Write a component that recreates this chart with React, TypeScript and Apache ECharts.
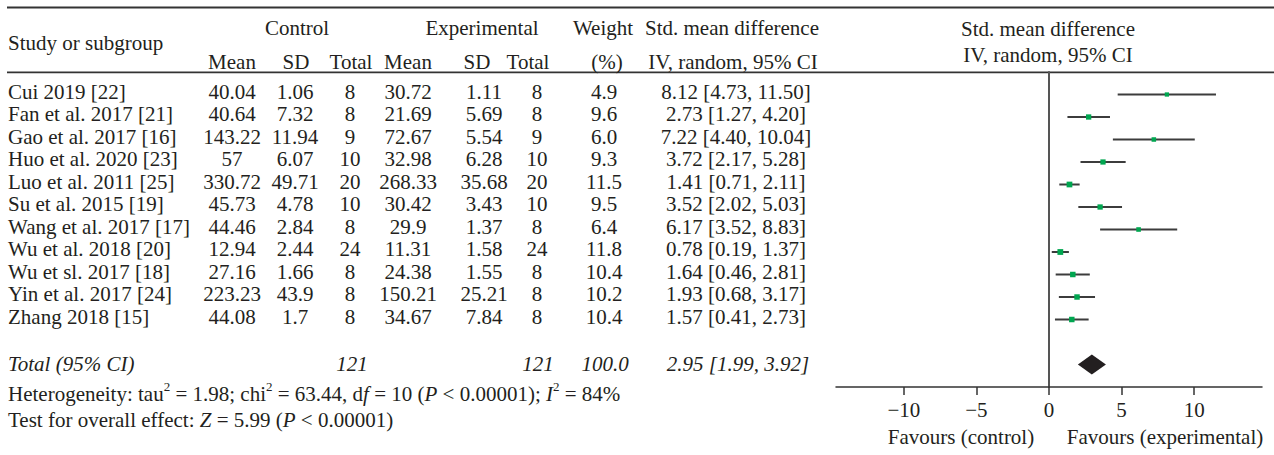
import React, { useEffect, useRef } from "react";
import * as echarts from "echarts";

const FONT = "'Liberation Serif', 'DejaVu Serif', serif";
const INK = "#231f20";
const FS = 21;

const studies = [
  "Cui 2019 [22]",
  "Fan et al. 2017 [21]",
  "Gao et al. 2017 [16]",
  "Huo et al. 2020 [23]",
  "Luo et al. 2011 [25]",
  "Su et al. 2015 [19]",
  "Wang et al. 2017 [17]",
  "Wu et al. 2018 [20]",
  "Wu et sl. 2017 [18]",
  "Yin et al. 2017 [24]",
  "Zhang 2018 [15]",
];
const controlMean = ["40.04", "40.64", "143.22", "57", "330.72", "45.73", "44.46", "12.94", "27.16", "223.23", "44.08"];
const controlSD = ["1.06", "7.32", "11.94", "6.07", "49.71", "4.78", "2.84", "2.44", "1.66", "43.9", "1.7"];
const controlTotal = [8, 8, 9, 10, 20, 10, 8, 24, 8, 8, 8];
const expMean = ["30.72", "21.69", "72.67", "32.98", "268.33", "30.42", "29.9", "11.31", "24.38", "150.21", "34.67"];
const expSD = ["1.11", "5.69", "5.54", "6.28", "35.68", "3.43", "1.37", "1.58", "1.55", "25.21", "7.84"];
const expTotal = [8, 8, 9, 10, 20, 10, 8, 24, 8, 8, 8];
const weights = [4.9, 9.6, 6.0, 9.3, 11.5, 9.5, 6.4, 11.8, 10.4, 10.2, 10.4];
const smd = [8.12, 2.73, 7.22, 3.72, 1.41, 3.52, 6.17, 0.78, 1.64, 1.93, 1.57];
const ciLow = [4.73, 1.27, 4.4, 2.17, 0.71, 2.02, 3.52, 0.19, 0.46, 0.68, 0.41];
const ciHigh = [11.5, 4.2, 10.04, 5.28, 2.11, 5.03, 8.83, 1.37, 2.81, 3.17, 2.73];
const pooledSmd = 2.95;
const pooledLow = 1.99;
const pooledHigh = 3.92;
const totalControl = 121;
const totalExp = 121;
const totalWeight = 100.0;
const xTickValues = [-10, -5, 0, 5, 10];
const TOTAL_ROW = 12;

// column x positions (layout)
const COL = {
  study: 8,
  cMean: 232,
  cSD: 295,
  cN: 350,
  eMean: 408,
  eSD: 484,
  eN: 537,
  weight: 604,
  ci: 736,
};

const fmtCI = (m: number, l: number, h: number) =>
  `${m.toFixed(2)} [${l.toFixed(2)}, ${h.toFixed(2)}]`;

function txt(text: string, x: number, y: number, align: string, italic = false, extra: any = {}) {
  return {
    type: "text",
    x,
    y,
    silent: true,
    style: {
      text,
      fill: INK,
      fontSize: FS,
      fontFamily: FONT,
      fontStyle: italic ? "italic" : "normal",
      align,
      textAlign: align,
      verticalAlign: "middle",
      textVerticalAlign: "middle",
      ...extra,
    },
  };
}

export default function App() {
  const ref = useRef<HTMLDivElement>(null);

  useEffect(() => {
    if (!ref.current) return;
    const chart = echarts.init(ref.current, undefined, { renderer: "svg" });

    const richStyles = {
      n: { fontSize: FS, fontFamily: FONT, fill: INK, lineHeight: 24, verticalAlign: "bottom" },
      i: { fontStyle: "italic", fontSize: FS, fontFamily: FONT, fill: INK, lineHeight: 24, verticalAlign: "bottom" },
      s: { fontSize: 13, fontFamily: FONT, fill: INK, lineHeight: 13, verticalAlign: "top" },
    };

    const option: any = {
      animation: false,
      backgroundColor: "#ffffff",
      textStyle: { fontFamily: FONT },
      grid: { left: 836, width: 426, top: 72, height: 315, containLabel: false },
      xAxis: {
        type: "value",
        min: -14.67,
        max: 14.67,
        splitLine: { show: false },
        axisLine: { show: true, onZero: false, lineStyle: { color: "#333", width: 1.5 } },
        axisTick: { show: true, length: 8, customValues: xTickValues, lineStyle: { color: "#333", width: 1.5 } },
        axisLabel: {
          show: true,
          customValues: xTickValues,
          margin: 12,
          fontSize: FS,
          fontFamily: FONT,
          color: INK,
          formatter: (v: number) => (v < 0 ? "\u2212" + Math.abs(v) : String(v)),
        },
      },
      yAxis: {
        type: "value",
        inverse: true,
        min: -1,
        max: 13,
        splitLine: { show: false },
        axisTick: { show: false },
        axisLabel: { show: false },
        axisLine: { show: true, onZero: true, lineStyle: { color: "#555", width: 2 } },
      },
      series: [
        {
          type: "custom",
          name: "studies",
          clip: false,
          encode: { x: 0, y: 1 },
          data: studies.map((_, i) => [smd[i], i, ciLow[i], ciHigh[i], weights[i]]),
          renderItem: (params: any, api: any) => {
            const y = api.value(1);
            const c = api.coord([api.value(0), y]);
            const l = api.coord([api.value(2), y]);
            const h = api.coord([api.value(3), y]);
            const s = 3.2 + api.value(4) * 0.22;
            return {
              type: "group",
              children: [
                {
                  type: "line",
                  shape: { x1: l[0], y1: l[1], x2: h[0], y2: h[1] },
                  style: { stroke: "#3c3c3c", lineWidth: 2 },
                },
                {
                  type: "rect",
                  shape: { x: c[0] - s / 2, y: c[1] - s / 2, width: s, height: s },
                  style: { fill: "#00a650" },
                },
              ],
            };
          },
        },
        {
          type: "custom",
          name: "pooled",
          clip: false,
          encode: { x: 0, y: 1 },
          data: [[pooledSmd, TOTAL_ROW, pooledLow, pooledHigh]],
          renderItem: (params: any, api: any) => {
            const y = api.value(1);
            const c = api.coord([api.value(0), y]);
            const l = api.coord([api.value(2), y]);
            const h = api.coord([api.value(3), y]);
            return {
              type: "polygon",
              shape: {
                points: [
                  [l[0], c[1]],
                  [c[0], c[1] - 10],
                  [h[0], c[1]],
                  [c[0], c[1] + 10],
                ],
              },
              style: { fill: INK },
            };
          },
        },
        {
          type: "custom",
          name: "table",
          clip: false,
          silent: true,
          encode: { x: 0, y: 1 },
          data: studies.map((_, i) => [0, i]),
          renderItem: (params: any, api: any) => {
            const i = params.dataIndex;
            const y = api.coord([0, api.value(1)])[1] - 3;
            return {
              type: "group",
              children: [
                txt(studies[i], COL.study, y, "left"),
                txt(controlMean[i], COL.cMean, y, "center"),
                txt(controlSD[i], COL.cSD, y, "center"),
                txt(String(controlTotal[i]), COL.cN, y, "center"),
                txt(expMean[i], COL.eMean, y, "center"),
                txt(expSD[i], COL.eSD, y, "center"),
                txt(String(expTotal[i]), COL.eN, y, "center"),
                txt(weights[i].toFixed(1), COL.weight, y, "center"),
                txt(fmtCI(smd[i], ciLow[i], ciHigh[i]), COL.ci, y, "center"),
              ],
            };
          },
        },
        {
          type: "custom",
          name: "totalRow",
          clip: false,
          silent: true,
          encode: { x: 0, y: 1 },
          data: [[0, TOTAL_ROW]],
          renderItem: (params: any, api: any) => {
            const y = api.coord([0, api.value(1)])[1] - 1;
            return {
              type: "group",
              children: [
                txt("Total (95% CI)", COL.study, y, "left", true),
                txt(String(totalControl), COL.cN + 2, y, "center", true),
                txt(String(totalExp), COL.eN + 1, y, "center", true),
                txt(totalWeight.toFixed(1), COL.weight + 1, y, "center", true),
                txt(fmtCI(pooledSmd, pooledLow, pooledHigh), COL.ci + 2, y, "center", true),
              ],
            };
          },
        },
      ],
      graphic: [
        // rules
        { type: "line", silent: true, shape: { x1: 7, y1: 7.5, x2: 1274, y2: 7.5 }, style: { stroke: "#333", lineWidth: 1.8 } },
        { type: "line", silent: true, shape: { x1: 7, y1: 72.3, x2: 1274, y2: 72.3 }, style: { stroke: "#333", lineWidth: 1.8 } },
        // left header
        txt("Study or subgroup", COL.study, 43, "left"),
        txt("Control", 297, 28, "center"),
        txt("Experimental", 482, 28, "center"),
        txt("Weight", 603, 28, "center"),
        txt("Std. mean difference", 732, 28, "center"),
        txt("Mean", COL.cMean, 62, "center"),
        txt("SD", 296, 62, "center"),
        txt("Total", 351, 62, "center"),
        txt("Mean", COL.eMean, 62, "center"),
        txt("SD", 477, 62, "center"),
        txt("Total", 528, 62, "center"),
        txt("(%)", 607, 62, "center"),
        txt("IV, random, 95% CI", 733, 62, "center"),
        // right header
        txt("Std. mean difference", 1048, 29, "center"),
        txt("IV, random, 95% CI", 1048, 55, "center"),
        // footer
        txt(
          "{n|Heterogeneity: tau}{s|2}{n| = 1.98; chi}{s|2}{n| = 63.44, d}{i|f}{n| = 10 (}{i|P}{n| < 0.00001); }{i|I}{s|2}{n| = 84%}",
          COL.study, 392, "left", false, { rich: richStyles }
        ),
        txt(
          "{n|Test for overall effect: }{i|Z}{n| = 5.99 (}{i|P}{n| < 0.00001)}",
          COL.study, 418, "left", false, { rich: richStyles }
        ),
        txt("Favours (control)", 961, 437, "center"),
        txt("Favours (experimental)", 1165, 437, "center"),
      ],
    };

    chart.setOption(option);
    return () => chart.dispose();
  }, []);

  return (
    <div
      ref={ref}
      style={{ position: "fixed", left: 0, top: 0, width: 1274, height: 455, background: "#fff" }}
    />
  );
}
